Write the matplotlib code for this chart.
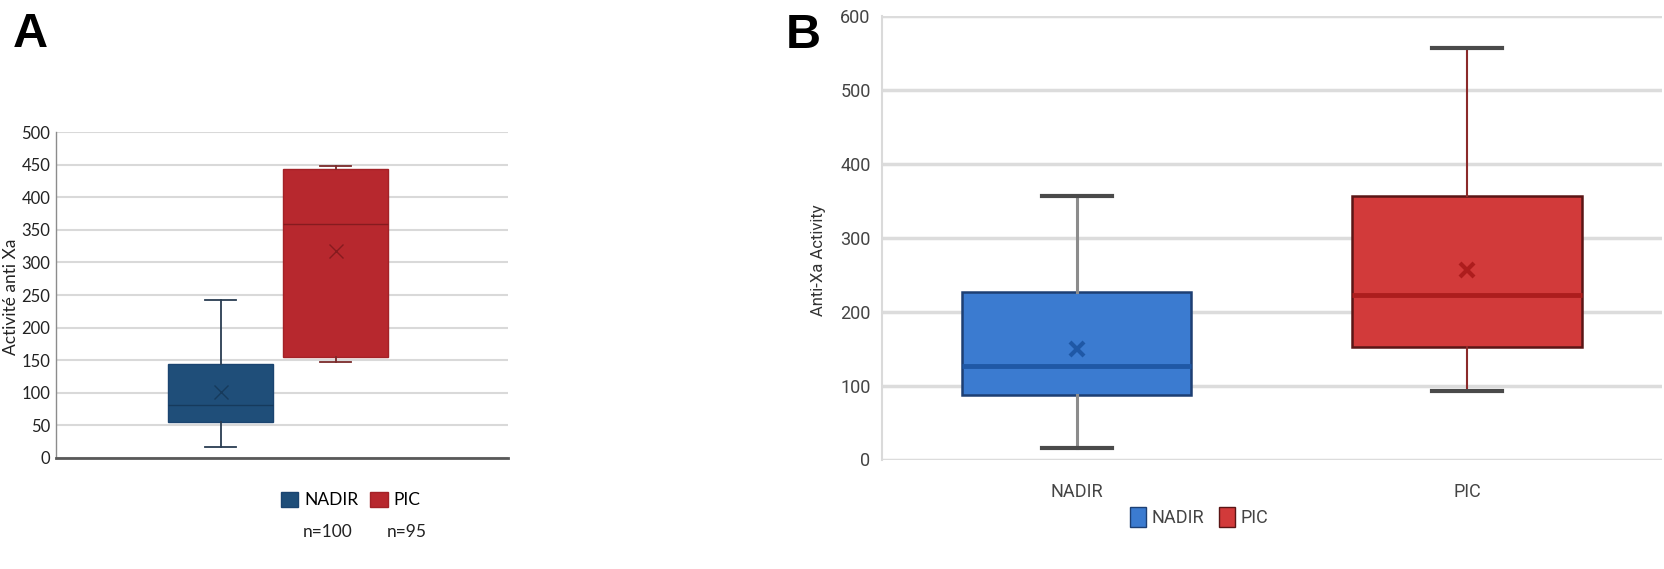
import numpy as np
import matplotlib.pyplot as plt
from matplotlib.patches import Patch

W, H = 1665, 569

groups = ["NADIR", "PIC"]
n_counts = [100, 95]

# panel A : Activité anti Xa
a_q1 = [55, 155]
a_med = [81, 359]
a_q3 = [144, 444]
a_lo = [17, 147]
a_hi = [243, 448]
a_mean = [101, 318]

# panel B : Anti-Xa Activity
b_q1 = [87, 152]
b_med = [127, 223]
b_q3 = [227, 356]
b_lo = [16, 92]
b_hi = [356, 557]
b_mean = [149, 256]

a_ticks = np.arange(0, 501, 50)
b_ticks = np.arange(0, 601, 100)

a_face = ["#1f4e79", "#b7282e"]
a_edge = ["#1b4470", "#a32227"]
a_dark = ["#163a5c", "#861b1f"]
a_whisk = ["#2a3d52", "#7a2a2a"]

b_face = ["#3b7bd0", "#d23a3a"]
b_edge = ["#1d3f73", "#5a1515"]
b_dark = ["#1f58a6", "#ad1d1d"]
b_whisk = ["#8c8c8c", "#8b2a2a"]


def px(l, b, r, t):
    return [l / W, 1 - b / H, (r - l) / W, (b - t) / H]


def stats(q1, med, q3, lo, hi, mean, i):
    return {"q1": q1[i], "med": med[i], "q3": q3[i], "whislo": lo[i],
            "whishi": hi[i], "mean": mean[i], "fliers": []}


fig = plt.figure(figsize=(W / 100, H / 100), dpi=100)

sans_a = ["Lato", "DejaVu Sans"]
sans_b = ["Roboto", "DejaVu Sans"]

# ---------------- A ----------------
axA = fig.add_axes(px(56, 457.7, 508, 132.3))
posA = [0.364, 0.619]
for i in range(2):
    axA.bxp([stats(a_q1, a_med, a_q3, a_lo, a_hi, a_mean, i)], positions=[posA[i]],
            widths=0.232, capwidths=0.069, patch_artist=True, showmeans=True,
            showfliers=False, manage_ticks=False,
            boxprops=dict(facecolor=a_face[i], edgecolor=a_edge[i], linewidth=1),
            medianprops=dict(color=a_dark[i], linewidth=1),
            whiskerprops=dict(color=a_whisk[i], linewidth=1.3),
            capprops=dict(color=a_whisk[i], linewidth=1.3),
            meanprops=dict(marker="x", markeredgecolor=a_dark[i], markersize=10,
                           markeredgewidth=1))
axA.set_xlim(0, 1)
axA.set_ylim(0, 500)
axA.set_yticks(a_ticks)
axA.set_xticks([])
axA.yaxis.grid(True, color="#d9d9d9", linewidth=1.5)
axA.set_axisbelow(True)
for s in ["top", "right"]:
    axA.spines[s].set_visible(False)
axA.spines["left"].set_color("#8c8c8c")
axA.spines["left"].set_linewidth(1)
axA.spines["bottom"].set_color("#595959")
axA.spines["bottom"].set_linewidth(2)
axA.tick_params(axis="y", length=0, pad=4, labelsize=12, labelcolor="#222222")
for lab in axA.get_yticklabels():
    lab.set_family(sans_a)
axA.set_ylabel("Activité anti Xa", fontsize=12.5, family=sans_a, color="#222222")
axA.yaxis.set_label_coords(-0.082, 0.494)

fig.legend(handles=[Patch(facecolor=a_face[0], edgecolor=a_edge[0]),
                    Patch(facecolor=a_face[1], edgecolor=a_edge[1])],
           labels=groups, ncol=2, frameon=False, loc="center left",
           bbox_to_anchor=(265 / W, 1 - 500 / H), handlelength=1.0,
           handleheight=1.0, handletextpad=0.35, columnspacing=0.7,
           prop={"family": sans_a, "size": 12.5})
fig.text(303 / W, 1 - 532 / H, "n=%d" % n_counts[0], family=sans_a, fontsize=12.5,
         va="center", color="#222222")
fig.text(387 / W, 1 - 532 / H, "n=%d" % n_counts[1], family=sans_a, fontsize=12.5,
         va="center", color="#222222")

# ---------------- B ----------------
axB = fig.add_axes(px(881.7, 459.5, 1662, 16))
for i in range(2):
    axB.bxp([stats(b_q1, b_med, b_q3, b_lo, b_hi, b_mean, i)], positions=[i],
            widths=0.588, capwidths=0.18, patch_artist=True, showmeans=True,
            showfliers=False, manage_ticks=False,
            boxprops=dict(facecolor=b_face[i], edgecolor=b_edge[i], linewidth=1.8),
            medianprops=dict(color=b_dark[i], linewidth=3.5),
            whiskerprops=dict(color=b_whisk[i], linewidth=2.2 if i == 0 else 1.5),
            capprops=dict(color="#4a4a4a", linewidth=3),
            meanprops=dict(marker="x", markeredgecolor=b_dark[i], markersize=10,
                           markeredgewidth=3))
axB.set_xlim(-0.5, 1.5)
axB.set_ylim(0, 600)
axB.set_yticks(b_ticks)
axB.set_xticks([0, 1])
axB.set_xticklabels(groups)
axB.yaxis.grid(True, color="#dcdcdc", linewidth=2.5)
axB.set_axisbelow(True)
for s in ["top", "right", "bottom"]:
    axB.spines[s].set_visible(False)
axB.spines["left"].set_color("#dadada")
axB.spines["left"].set_linewidth(1.5)
axB.tick_params(axis="y", length=0, pad=8, labelsize=13, labelcolor="#444444")
axB.tick_params(axis="x", length=0, pad=17, labelsize=13, labelcolor="#444444")
for lab in axB.get_yticklabels() + axB.get_xticklabels():
    lab.set_family(sans_b)
axB.set_ylabel("Anti-Xa Activity", fontsize=12, color="#333333", family=sans_b)
axB.yaxis.set_label_coords(-0.072, 0.45)

fig.legend(handles=[Patch(facecolor=b_face[0], edgecolor=b_edge[0]),
                    Patch(facecolor=b_face[1], edgecolor=b_edge[1])],
           labels=groups, ncol=2, frameon=False, loc="center left",
           bbox_to_anchor=(1114 / W, 1 - 517 / H), handlelength=0.9,
           handleheight=1.3, handletextpad=0.3, columnspacing=0.8,
           labelcolor="#444444", prop={"family": sans_b, "size": 13})

# panel letters
fig.text(13 / W, 1 - 47 / H, "A", fontsize=35, fontweight="bold",
         family=["Liberation Sans", "DejaVu Sans"], va="baseline")
fig.text(786 / W, 1 - 48 / H, "B", fontsize=35, fontweight="bold",
         family=["Liberation Sans", "DejaVu Sans"], va="baseline")

fig.savefig("out.png", dpi=100)
